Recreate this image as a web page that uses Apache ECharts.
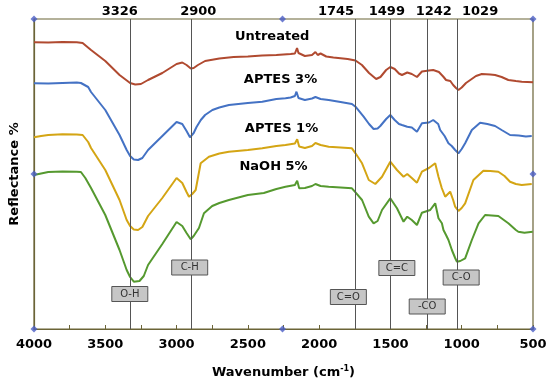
<!DOCTYPE html>
<html>
<head>
<meta charset="utf-8">
<script src="https://cdn.jsdelivr.net/npm/echarts@6/dist/echarts.min.js"></script>
<style>html,body{margin:0;padding:0;background:#fff}#c{width:550px;height:384px}</style>
</head>
<body>
<div id="c"></div>
<script>
// Wavenumber (cm-1), relative reflectance (arbitrary, offset curves)
const untreated = [[4000,286.7],[3900,286.5],[3800,287],[3700,286.7],[3659,286],[3600,279],[3500,268],[3400,254],[3326,246],[3290,244.5],[3250,245],[3200,249],[3100,256],[3000,265],[2960,266.5],[2930,264],[2900,260.5],[2880,261],[2850,264],[2800,268],[2700,270.5],[2600,272],[2500,272.5],[2400,273.5],[2300,274],[2200,275],[2170,275.5],[2155,281],[2145,276],[2100,273],[2050,274],[2026,277],[2010,274],[1990,275.5],[1950,272.5],[1900,271.5],[1800,270],[1745,268.5],[1700,264],[1650,256],[1600,250],[1570,252],[1530,259],[1501,262],[1470,260],[1440,255.5],[1419,254],[1382,256.5],[1350,255],[1314,252],[1279,257.5],[1230,258.5],[1200,259],[1186,260],[1160,257],[1130,252.5],[1110,249],[1080,248],[1060,244],[1040,241],[1023,239],[1000,241.5],[970,246],[940,249],[900,253],[859,255],[800,254.5],[766,254],[720,252],[673,249],[620,248],[579,247.3],[500,246.7]];
const aptes3 = [[4000,245.7],[3900,245.5],[3800,246],[3700,246.5],[3671,246],[3620,242],[3600,237],[3500,219],[3400,194],[3350,179],[3326,173],[3300,169.5],[3270,169],[3240,171],[3200,179],[3100,193],[3000,207],[2990,208.3],[2960,205],[2930,198],[2906,191.7],[2880,196],[2860,202],[2830,209],[2800,214],[2749,219],[2700,221.5],[2633,224],[2500,226],[2399,227.3],[2300,230],[2236,230.7],[2200,231.5],[2170,233],[2159,237.3],[2145,231],[2100,229],[2050,230.5],[2026,232],[2014,232.3],[1990,230],[1933,229],[1850,227],[1770,225],[1745,222.3],[1688,212.3],[1650,205],[1618,200],[1590,200.5],[1571,203],[1530,210],[1501,214],[1470,209],[1440,205],[1419,204],[1382,202.3],[1350,201.5],[1314,197.3],[1279,205.7],[1230,206.5],[1200,209],[1186,210.7],[1165,205],[1151,199],[1120,193],[1093,185.7],[1070,183],[1046,179],[1023,175.7],[1000,180],[976,185.7],[929,199],[871,206.3],[820,205],[766,203],[720,199],[661,194],[600,193.5],[550,192.5],[509,193]];
const aptes1 = [[4000,191.7],[3950,193],[3900,194],[3800,194.7],[3700,194.5],[3659,194],[3620,187],[3600,181],[3500,159],[3400,129],[3350,109],[3326,103],[3300,99.5],[3270,99],[3240,102],[3200,113],[3100,131],[3000,151],[2994,152.3],[2960,146],[2930,137],[2913,132.3],[2890,135],[2866,139],[2831,165.7],[2773,172.3],[2700,175.5],[2633,177.3],[2500,179],[2399,180.7],[2300,183],[2236,184],[2170,185.5],[2154,189.7],[2140,182.5],[2100,181],[2050,183],[2026,186],[2014,187.3],[1990,184],[1933,182.3],[1850,181.5],[1770,180.7],[1745,175.7],[1699,165.7],[1652,149],[1606,145],[1559,152.3],[1501,167.3],[1454,159],[1408,152.3],[1382,155],[1350,151],[1314,146.3],[1279,157.3],[1230,161],[1186,165.7],[1163,152.3],[1140,141],[1116,132.3],[1081,137.3],[1060,129],[1046,122.3],[1023,118],[1000,121],[976,125.7],[918,149],[848,158.3],[800,158],[743,157.3],[700,153],[661,147.3],[620,145],[579,144],[509,145]];
const naoh5 = [[4000,154],[3950,155.5],[3900,157],[3800,157.5],[3700,157.3],[3671,157],[3640,151],[3600,141],[3500,114],[3400,79],[3350,59],[3326,52],[3300,47.3],[3260,48],[3230,53],[3200,64],[3100,85],[3000,107],[2994,108.3],[2960,103],[2930,96],[2901,89.7],[2880,93],[2843,101],[2808,115.7],[2750,123],[2700,126],[2633,129],[2500,134],[2388,136],[2300,140],[2236,142.3],[2170,144],[2154,148.3],[2140,140.7],[2100,141],[2050,143],[2026,145],[2014,145.7],[1990,143],[1933,142.3],[1850,141.5],[1770,140.7],[1745,136.7],[1699,129],[1652,112.3],[1618,105.7],[1590,108],[1559,119],[1501,130.7],[1454,120.7],[1408,107.3],[1382,112.3],[1350,109],[1314,104],[1279,116.3],[1221,119],[1186,125.7],[1163,110.7],[1139,105.7],[1128,99],[1110,94],[1093,89],[1069,79],[1046,71],[1034,67.3],[1010,68],[976,70.7],[929,89],[882,105.7],[836,114],[743,113],[673,105.7],[620,99],[603,97.3],[560,96.3],[502,97.3]];

const seriesNames = ['Untreated', 'APTES 3%', 'APTES 1%', 'NaOH 5%'];
const seriesColors = ['#b04a30', '#4472c4', '#d4a514', '#55992f'];
// label anchor for each curve name: [wavenumber, level]
const seriesLabelPos = [[2330,292.3],[2271,249],[2264,200.7],[2320,162.3]];

const peakLines = [3326, 2900, 1745, 1499, 1242, 1029];
const peakLabelPos = [[3398,317],[2848,317],[1882,317],[1525,317],[1196,317],[871,317]];

const bondNames = ['O-H', 'C-H', 'C=O', 'C=C', '-CO', 'C-O'];
const bondPos = [[3328,35],[2908,61.5],[1795,32],[1455,61],[1242,22.5],[1004,51.5]];

const handlePos = [[4000,310],[2257,310],[500,310],[4000,155],[500,155],[4000,0],[2257,0],[500,0]];

const axisColor = '#6b6437';
const FONT = 'DejaVu Sans';

const chart = echarts.init(document.getElementById('c'), null, {renderer: 'canvas'});

const series = [];
const data = [untreated, aptes3, aptes1, naoh5];
data.forEach((d, i) => {
  series.push({
    name: seriesNames[i], type: 'line', data: d, showSymbol: false, symbol: 'none',
    lineStyle: {color: seriesColors[i], width: 2}, z: 3, animation: false
  });
});

// vertical peak lines
series.push({
  type: 'line', data: [], z: 2,
  markLine: {
    silent: true, symbol: ['none', 'none'], animation: false,
    lineStyle: {color: '#555', width: 1, type: 'solid'},
    label: {show: false},
    data: peakLines.map(v => ({xAxis: v}))
  }
});

// selection handles
series.push({
  type: 'scatter', symbol: 'diamond', symbolSize: 7, clip: false, z: 7, silent: true,
  itemStyle: {color: '#4a5cc4'},
  data: handlePos
});

chart.setOption({
  animation: false,
  backgroundColor: '#fff',
  grid: {left: 33, right: 17, top: 19, bottom: 55, show: true, borderColor: axisColor, borderWidth: 1.2, backgroundColor: 'transparent'},
  xAxis: {
    type: 'value', min: 500, max: 4000, interval: 250, inverse: true,
    name: 'Wavenumber (cm{sup|-1})', nameLocation: 'middle', nameGap: 36,
    nameTextStyle: {fontFamily: FONT, fontWeight: 'bold', fontSize: 13, color: '#000',
      rich: {sup: {fontFamily: FONT, fontWeight: 'bold', fontSize: 8, verticalAlign: 'top', padding: [0,0,7,0], color: '#000'}}},
    axisLine: {show: true, onZero: false, lineStyle: {color: axisColor, width: 1.2}},
    axisTick: {show: true, inside: true, length: 4, lineStyle: {color: axisColor}},
    splitLine: {show: false},
    axisLabel: {fontFamily: FONT, fontWeight: 'bold', fontSize: 13, color: '#000', margin: 9,
      formatter: v => (v % 500 === 0 ? String(v) : '')}
  },
  yAxis: {
    type: 'value', min: 0, max: 310,
    name: 'Reflectance %', nameLocation: 'middle', nameGap: 13, nameRotate: 90,
    nameTextStyle: {fontFamily: FONT, fontWeight: 'bold', fontSize: 13, color: '#000'},
    axisLine: {show: true, lineStyle: {color: axisColor, width: 1.2}},
    axisTick: {show: false}, axisLabel: {show: false}, splitLine: {show: false}
  },
  series: series
});

// text annotations placed through the chart's own coordinate conversion
const toPx = p => chart.convertToPixel({gridIndex: 0}, p);
const graphics = [];
peakLabelPos.forEach((p, i) => {
  const [x, y] = toPx(p);
  graphics.push({type: 'text', x: x, y: y, z: 10, silent: true,
    style: {text: String(peakLines[i]), font: 'bold 13px "' + FONT + '"', fill: '#000', textAlign: 'center', textVerticalAlign: 'middle'}});
});
seriesLabelPos.forEach((p, i) => {
  const [x, y] = toPx(p);
  graphics.push({type: 'text', x: x, y: y, z: 10, silent: true,
    style: {text: seriesNames[i], font: 'bold 13px "' + FONT + '"', fill: '#000', textAlign: 'center', textVerticalAlign: 'middle'}});
});
bondPos.forEach((p, i) => {
  const [x, y] = toPx(p);
  graphics.push({type: 'rect', x: x - 18, y: y - 7.5, z: 10, silent: true,
    shape: {x: 0, y: 0, width: 36, height: 15},
    style: {fill: '#c6c6c6', stroke: '#555', lineWidth: 1}});
  graphics.push({type: 'text', x: x, y: y, z: 11, silent: true,
    style: {text: bondNames[i], font: '10px "' + FONT + '"', fill: '#333', textAlign: 'center', textVerticalAlign: 'middle'}});
});
chart.setOption({graphic: graphics});
</script>
</body>
</html>
